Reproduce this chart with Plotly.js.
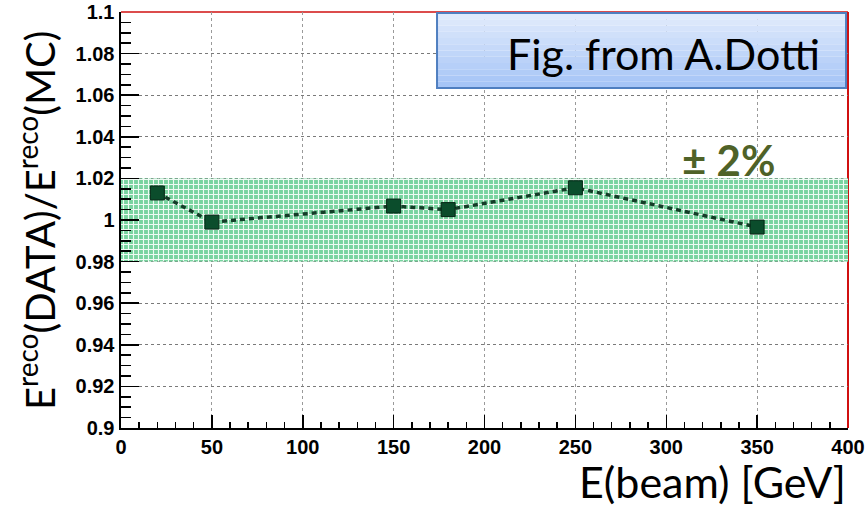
<!DOCTYPE html>
<html><head><meta charset="utf-8">
<script src="https://cdn.plot.ly/plotly-3.0.1.min.js"></script>
<style>html,body{margin:0;padding:0;background:#fff}#c{width:868px;height:511px}</style>
</head><body><div id="c"></div>
<script>
const energies = [20, 50, 150, 180, 250, 350];
const ratios = [1.013, 0.999, 1.0067, 1.005, 1.0155, 0.9966];
const bandX = [0, 400];
const bandLow = [0.98, 0.98];
const bandHigh = [1.02, 1.02];
const yTickVals = [0.9, 0.92, 0.94, 0.96, 0.98, 1, 1.02, 1.04, 1.06, 1.08, 1.1];
const yTickText = ['0.9', '0.92', '0.94', '0.96', '0.98', '1', '1.02', '1.04', '1.06', '1.08', '1.1'];
const xTickVals = [0, 50, 100, 150, 200, 250, 300, 350, 400];
const xTickText = ['0', '50', '100', '150', '200', '250', '300', '350', '400'];

const traces = [
  {x: bandX, y: bandLow, mode: 'lines', line: {width: 0}, hoverinfo: 'skip', showlegend: false},
  {x: bandX, y: bandHigh, mode: 'lines', line: {width: 0}, fill: 'tonexty',
   fillcolor: 'rgba(120,215,165,0.75)',
   fillpattern: {shape: '+', size: 5, solidity: 0.4, fgcolor: '#eefaf3', bgcolor: '#78d39f'},
   hoverinfo: 'skip', showlegend: false},
  {x: energies, y: ratios, mode: 'lines+markers',
   line: {color: '#143d28', width: 3.5, dash: '5px,4px'},
   marker: {symbol: 'square', size: 14, color: '#0b4d2c', line: {color: '#052514', width: 1}},
   showlegend: false}
];

const shapes = [];
const bx0 = 0.4347, bx1 = 0.9973, by0 = 0.8173, by1 = 0.9976;
const nStrips = 12;
for (let i = 0; i < nStrips; i++) {
  const t = i / (nStrips - 1);
  const r = Math.round(224 + (166 - 224) * t);
  const g = Math.round(234 + (197 - 234) * t);
  const b = Math.round(252 + (246 - 252) * t);
  shapes.push({type: 'rect', xref: 'paper', yref: 'paper', layer: 'above',
    x0: bx0, x1: bx1,
    y1: by1 - (by1 - by0) * i / nStrips, y0: by1 - (by1 - by0) * (i + 1) / nStrips,
    fillcolor: `rgb(${r},${g},${b})`, line: {width: 0}});
}
shapes.push({type: 'rect', xref: 'paper', yref: 'paper', layer: 'above', x0: bx0, x1: bx1, y0: by0, y1: by1,
  fillcolor: 'rgba(0,0,0,0)', line: {color: '#4f7fc0', width: 2}});
shapes.push({type: 'line', xref: 'paper', yref: 'paper', x0: 0, x1: 1, y0: 1, y1: 1, line: {color: '#d01010', width: 1.5}, layer: 'below'});
shapes.push({type: 'line', xref: 'paper', yref: 'paper', x0: 1, x1: 1, y0: 0, y1: 1, line: {color: '#d01010', width: 2}, layer: 'below'});

const tickFont = {family: 'Liberation Sans', size: 20, color: '#000', weight: 700};

const layout = {
  width: 868, height: 511,
  margin: {l: 121, r: 20, t: 12, b: 83},
  paper_bgcolor: '#fff', plot_bgcolor: '#fff',
  xaxis: {range: [0, 400], tickvals: xTickVals, ticktext: xTickText, ticks: 'inside', ticklen: 13,
    tickcolor: '#000', tickwidth: 1.5, showline: true, linecolor: '#000', linewidth: 2,
    showgrid: true, gridcolor: '#9a9a9a', griddash: 'dot', gridwidth: 1, zeroline: false,
    tickfont: tickFont, fixedrange: true,
    minor: {dtick: 10, ticks: 'inside', ticklen: 6, tickcolor: '#000', showgrid: false}},
  yaxis: {range: [0.9, 1.1], tickvals: yTickVals, ticktext: yTickText, ticks: 'inside', ticklen: 18,
    tickcolor: '#000', tickwidth: 1.5, showline: true, linecolor: '#000', linewidth: 2.5,
    showgrid: true, gridcolor: '#7a7a7a', griddash: 'dot', gridwidth: 1, zeroline: false,
    tickfont: tickFont, fixedrange: true,
    minor: {dtick: 0.005, ticks: 'inside', ticklen: 10, tickcolor: '#000', showgrid: false}},
  shapes: shapes,
  annotations: [
    {xref: 'paper', yref: 'paper', x: 0.964, y: 0.9, xanchor: 'right', yanchor: 'middle', showarrow: false,
     text: 'Fig. from A.Dotti', font: {family: 'Lato', size: 43, color: '#000'}},
    {xref: 'paper', yref: 'paper', x: 0.836, y: 0.644, xanchor: 'center', yanchor: 'middle', showarrow: false,
     text: '± 2%', font: {family: 'Lato', size: 42, color: '#4f6228', weight: 700}},
    {xref: 'paper', yref: 'paper', x: 1.0, y: -0.128, xanchor: 'right', yanchor: 'middle', showarrow: false,
     text: 'E(beam) [GeV]', font: {family: 'Lato', size: 43, color: '#000'}},
    {xref: 'paper', yref: 'paper', x: -0.1155, y: 0.5, xanchor: 'center', yanchor: 'middle', showarrow: false,
     textangle: -90,
     text: 'E<sup>reco</sup>(DATA)/E<sup>reco</sup>(MC)', font: {family: 'Lato', size: 40, color: '#000'}}
  ]
};
Plotly.newPlot('c', traces, layout, {displayModeBar: false, staticPlot: true});
</script>
</body></html>
